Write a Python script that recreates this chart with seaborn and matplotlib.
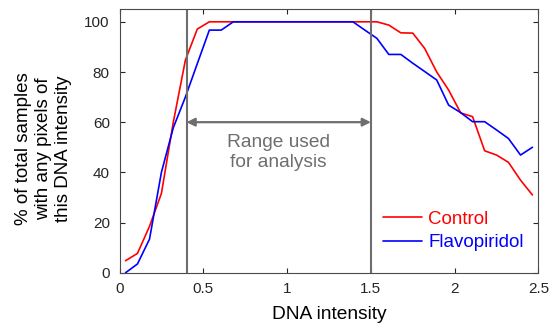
import matplotlib
matplotlib.use("Agg")
import matplotlib.pyplot as plt
import pandas as pd
import seaborn as sns

# bin centres of DNA intensity (35 bins over 0-2.5)
dna_intensity = [0.036, 0.107, 0.179, 0.250, 0.321, 0.393, 0.464, 0.536, 0.607,
                 0.679, 0.750, 0.821, 0.893, 0.964, 1.036, 1.107, 1.179, 1.250,
                 1.321, 1.393, 1.464, 1.536, 1.607, 1.679, 1.750, 1.821, 1.893,
                 1.964, 2.036, 2.107, 2.179, 2.250, 2.321, 2.393, 2.464]

control = [4.8, 7.7, 18.5, 31.6, 60.0, 84.7, 97.1,
           100, 100, 100, 100, 100, 100, 100, 100, 100, 100, 100, 100, 100, 100, 100,
           98.7, 95.6, 95.5, 89.4, 80.0, 72.8, 63.7, 62.2, 48.6, 46.9, 44.0, 36.9, 31.0]

flavopiridol = [0.0, 3.5, 13.4, 40.0, 57.8, 70.0, 83.3, 96.7, 96.7,
                100, 100, 100, 100, 100, 100, 100, 100, 100, 100, 100,
                96.7, 93.4, 87.0, 87.0, 83.5, 80.2, 76.8, 66.8, 63.8, 60.2, 60.2,
                56.9, 53.5, 46.9, 50.0]

series_names = ["Control", "Flavopiridol"]
series_colors = ["#ff0000", "#0000ff"]
range_lo, range_hi = 0.4, 1.5
x_ticks = [0, 0.5, 1, 1.5, 2, 2.5]
x_tick_labels = ["0", "0.5", "1", "1.5", "2", "2.5"]
y_ticks = [0, 20, 40, 60, 80, 100]

df = pd.concat([
    pd.DataFrame({"x": dna_intensity, "y": control, "group": "Control"}),
    pd.DataFrame({"x": dna_intensity, "y": flavopiridol, "group": "Flavopiridol"}),
])

sns.set_style("ticks")
plt.rcParams["font.family"] = ["Liberation Sans", "DejaVu Sans"]

fig = plt.figure(figsize=(5.5, 3.31), dpi=100)
ax = fig.add_axes([0.2173, 0.176, 0.7617, 0.796])

sns.lineplot(data=df, x="x", y="y", hue="group", hue_order=series_names,
             palette=series_colors, linewidth=1.2, ax=ax, legend=False)

grey = "#6e6e6e"
ax.axvline(range_lo, color=grey, linewidth=1.5)
ax.axvline(range_hi, color=grey, linewidth=1.5)
ax.annotate("", xy=(range_lo, 60), xytext=(range_hi, 60),
            arrowprops=dict(arrowstyle="<|-|>", color=grey, lw=1.6,
                            mutation_scale=12, shrinkA=0, shrinkB=0))
ax.text((range_lo + range_hi) / 2, 48, "Range used\nfor analysis", color=grey,
        fontsize=13.8, ha="center", va="center", linespacing=1.25)

ax.set_xlim(0, 2.5)
ax.set_ylim(0, 105)
ax.set_xticks(x_ticks)
ax.set_xticklabels(x_tick_labels)
ax.set_yticks(y_ticks)
ax.tick_params(direction="in", top=True, right=True, length=3.5, width=0.8,
               colors="#262626", labelsize=11, pad=7)
for sp in ax.spines.values():
    sp.set_color("#4a4a4a")
    sp.set_linewidth(0.8)

ax.set_xlabel("DNA intensity", fontsize=13.8, color="black")
ax.xaxis.set_label_coords(0.5, -0.128)
ax.set_ylabel("% of total samples\nwith any pixels of\nthis DNA intensity",
              fontsize=13.5, color="black", linespacing=1.25)
ax.yaxis.set_label_coords(-0.113, 0.47)

handles = [plt.Line2D([], [], color=c, linewidth=1.2) for c in series_colors]
leg = ax.legend(handles, series_names, loc="center left", frameon=False,
                fontsize=13.5, handlelength=2.1, handletextpad=0.34,
                labelspacing=0.33, borderpad=0, borderaxespad=0,
                bbox_to_anchor=(0.628, 0.159))
for txt, c in zip(leg.get_texts(), series_colors):
    txt.set_color(c)

fig.savefig("out.png", dpi=100)
